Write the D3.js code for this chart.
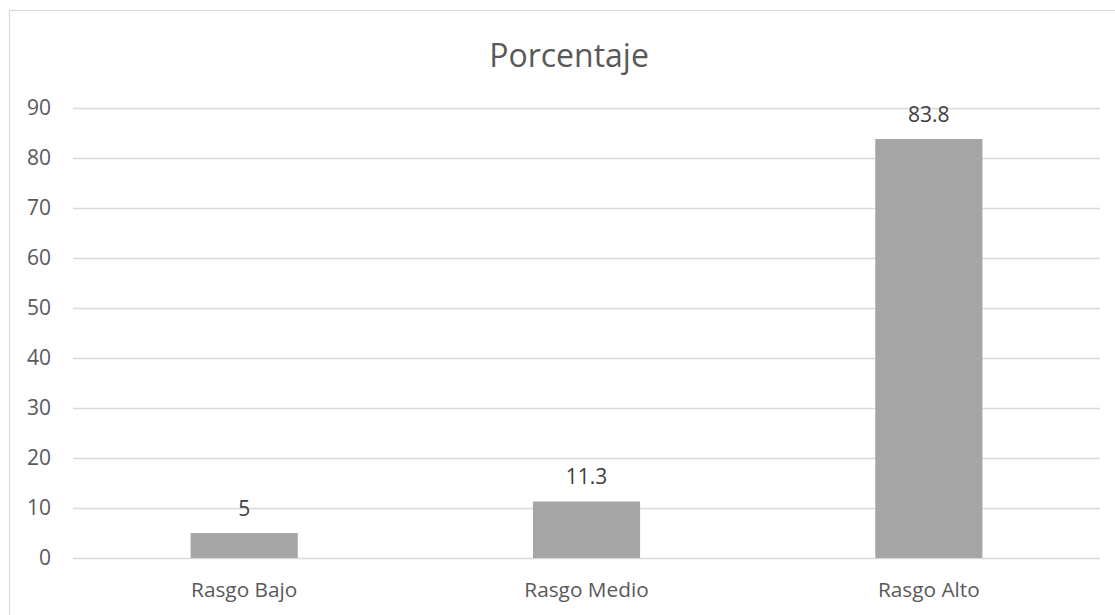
<!DOCTYPE html>
<html><head><meta charset="utf-8">
<script src="https://cdn.jsdelivr.net/npm/d3@7"></script>
<style>html,body{margin:0;padding:0;background:#fff;} svg{display:block;}</style>
</head><body>
<script>
const categories = ["Rasgo Bajo", "Rasgo Medio", "Rasgo Alto"];
const values = [5, 11.3, 83.8];
const valueLabels = ["5", "11.3", "83.8"];
const yTicks = [0, 10, 20, 30, 40, 50, 60, 70, 80, 90];
const title = "Porcentaje";

const W = 1115, H = 615;
const font = "'Open Sans', sans-serif";
const svg = d3.select("body").append("svg").attr("width", W).attr("height", H);

svg.append("rect").attr("x", 9.5).attr("y", 10.5).attr("width", 1110).attr("height", 610)
  .attr("fill", "#fff").attr("stroke", "#d9d9d9").attr("stroke-width", 1.2);

const plot = {left: 73, right: 1100, top: 108, bottom: 558};
const x = d3.scaleBand().domain(categories).range([plot.left, plot.right])
  .paddingInner(0.687).paddingOuter(0.3435);
const y = d3.scaleLinear().domain([0, 90]).range([plot.bottom, plot.top]);

// gridlines
svg.append("g").selectAll("line").data(yTicks).join("line")
  .attr("x1", plot.left).attr("x2", plot.right)
  .attr("y1", d => Math.round(y(d)) + 0.5).attr("y2", d => Math.round(y(d)) + 0.5)
  .attr("stroke", "#d9d9d9").attr("stroke-width", 1.3);

// y axis labels
const yAxis = d3.axisLeft(y).tickValues(yTicks).tickSize(0).tickPadding(0).tickFormat(d3.format("d"));
const gy = svg.append("g").attr("transform", `translate(51,0)`).call(yAxis);
gy.select(".domain").remove();
gy.selectAll("text").attr("font-family", font).attr("font-size", 21).attr("fill", "#595959");

// bars
svg.append("g").selectAll("rect").data(values).join("rect")
  .attr("x", (d, i) => x(categories[i]))
  .attr("width", x.bandwidth())
  .attr("y", d => y(d))
  .attr("height", d => y(0) - y(d))
  .attr("fill", "#a5a5a5");

// value labels
svg.append("g").selectAll("text").data(values).join("text")
  .attr("x", (d, i) => x(categories[i]) + x.bandwidth() / 2)
  .attr("y", d => y(d) - 17.5)
  .attr("text-anchor", "middle")
  .attr("font-family", font).attr("font-size", 21).attr("fill", "#404040")
  .text((d, i) => valueLabels[i]);

// x axis labels
const xAxis = d3.axisBottom(x).tickSize(0).tickPadding(0);
const gx = svg.append("g").attr("transform", `translate(0,${plot.bottom})`).call(xAxis);
gx.select(".domain").remove();
gx.selectAll("text").attr("dy", null).attr("y", 39)
  .attr("font-family", font).attr("font-size", 20.8).attr("fill", "#595959");

// title
svg.append("text").attr("x", 569).attr("y", 67).attr("text-anchor", "middle")
  .attr("font-family", font).attr("font-size", 32).attr("fill", "#595959")
  .text(title);
</script>
</body></html>
